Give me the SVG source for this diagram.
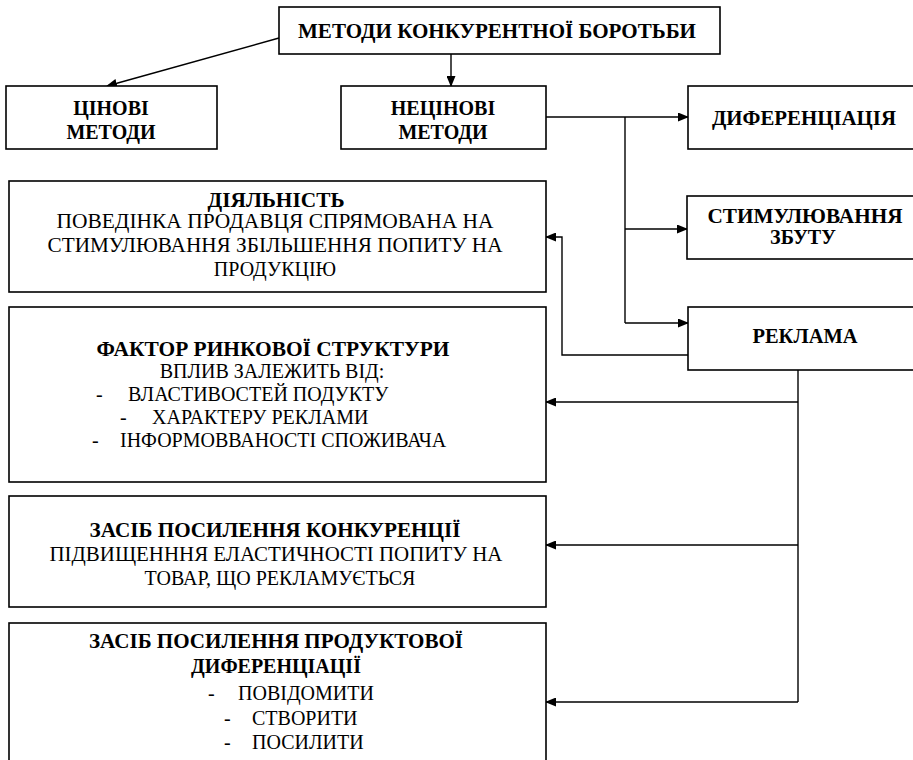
<svg xmlns="http://www.w3.org/2000/svg" width="913" height="760" viewBox="0 0 913 760">
<style>
.box{fill:#fff;stroke:#000;stroke-width:1.6}
.b{font-family:'Liberation Serif',serif;font-weight:bold;font-size:20px;fill:#000}
.r{font-family:'Liberation Serif',serif;font-size:20px;fill:#000}
.c{stroke:#000;stroke-width:1.4;fill:none}
</style>
<defs>
<marker id="ah" markerWidth="11" markerHeight="9" refX="10" refY="4.5" orient="auto" markerUnits="userSpaceOnUse">
<path d="M0,0 L11,4.5 L0,9 Z" fill="#000"/>
</marker>
</defs>
<rect width="913" height="760" fill="#fff"/>
<g id="connectors">
<line class="c" x1="279" y1="38" x2="107" y2="86" marker-end="url(#ah)"/>
<line class="c" x1="451" y1="54" x2="451" y2="86" marker-end="url(#ah)"/>
<line class="c" x1="546" y1="117" x2="688" y2="117" marker-end="url(#ah)"/>
<line class="c" x1="625" y1="117" x2="625" y2="323"/>
<line class="c" x1="625" y1="229" x2="687" y2="229" marker-end="url(#ah)"/>
<line class="c" x1="625" y1="323" x2="688" y2="323" marker-end="url(#ah)"/>
<polyline class="c" points="688,355 562,355 562,237 546,237" marker-end="url(#ah)"/>
<line class="c" x1="798" y1="370" x2="798" y2="702"/>
<line class="c" x1="798" y1="402" x2="546" y2="402" marker-end="url(#ah)"/>
<line class="c" x1="798" y1="545" x2="546" y2="545" marker-end="url(#ah)"/>
<line class="c" x1="798" y1="702" x2="546" y2="702" marker-end="url(#ah)"/>
</g>
<g id="n-top">
<rect class="box" x="279" y="7" width="441" height="47"/>
<text class="b" x="497" y="38" text-anchor="middle" textLength="398" lengthAdjust="spacingAndGlyphs">МЕТОДИ КОНКУРЕНТНОЇ БОРОТЬБИ</text>
</g>
<g id="n-price">
<rect class="box" x="6" y="86" width="211" height="63"/>
<text class="b" x="111" y="115" text-anchor="middle">ЦІНОВІ</text>
<text class="b" x="111" y="139" text-anchor="middle">МЕТОДИ</text>
</g>
<g id="n-nonprice">
<rect class="box" x="341" y="86" width="205" height="63"/>
<text class="b" x="443" y="115" text-anchor="middle">НЕЦІНОВІ</text>
<text class="b" x="443" y="139" text-anchor="middle">МЕТОДИ</text>
</g>
<g id="n-diff">
<rect class="box" x="688" y="86" width="240" height="63"/>
<text class="b" x="804" y="125" text-anchor="middle" textLength="184" lengthAdjust="spacingAndGlyphs">ДИФЕРЕНЦІАЦІЯ</text>
</g>
<g id="n-stim">
<rect class="box" x="687" y="196" width="240" height="63"/>
<text class="b" x="805" y="223" text-anchor="middle" textLength="195" lengthAdjust="spacingAndGlyphs">СТИМУЛЮВАННЯ</text>
<text class="b" x="803" y="244" text-anchor="middle">ЗБУТУ</text>
</g>
<g id="n-adv">
<rect class="box" x="688" y="307" width="240" height="63"/>
<text class="b" x="805" y="343" text-anchor="middle" textLength="105" lengthAdjust="spacingAndGlyphs">РЕКЛАМА</text>
</g>
<g id="n-activity">
<rect class="box" x="9" y="181" width="537" height="111"/>
<text class="b" x="276" y="207" text-anchor="middle" textLength="137" lengthAdjust="spacingAndGlyphs">ДІЯЛЬНІСТЬ</text>
<text class="r" x="275" y="228" text-anchor="middle" textLength="437" lengthAdjust="spacingAndGlyphs">ПОВЕДІНКА ПРОДАВЦЯ СПРЯМОВАНА НА</text>
<text class="r" x="275" y="252" text-anchor="middle" textLength="455" lengthAdjust="spacingAndGlyphs">СТИМУЛЮВАННЯ ЗБІЛЬШЕННЯ ПОПИТУ НА</text>
<text class="r" x="275" y="276" text-anchor="middle">ПРОДУКЦІЮ</text>
</g>
<g id="n-factor">
<rect class="box" x="9" y="307" width="537" height="175"/>
<text class="b" x="273" y="356" text-anchor="middle" textLength="353" lengthAdjust="spacingAndGlyphs">ФАКТОР РИНКОВОЇ СТРУКТУРИ</text>
<text class="r" x="272" y="378" text-anchor="middle">ВПЛИВ ЗАЛЕЖИТЬ ВІД:</text>
<text class="r" x="96" y="401">-</text>
<text class="r" x="128" y="401">ВЛАСТИВОСТЕЙ ПОДУКТУ</text>
<text class="r" x="120" y="424">-</text>
<text class="r" x="152" y="424">ХАРАКТЕРУ РЕКЛАМИ</text>
<text class="r" x="92" y="447">-</text>
<text class="r" x="120" y="447">ІНФОРМОВВАНОСТІ СПОЖИВАЧА</text>
</g>
<g id="n-competition">
<rect class="box" x="9" y="496" width="537" height="111"/>
<text class="b" x="275" y="537" text-anchor="middle" textLength="371" lengthAdjust="spacingAndGlyphs">ЗАСІБ ПОСИЛЕННЯ КОНКУРЕНЦІЇ</text>
<text class="r" x="276" y="561" text-anchor="middle" textLength="453" lengthAdjust="spacingAndGlyphs">ПІДВИЩЕНННЯ ЕЛАСТИЧНОСТІ ПОПИТУ НА</text>
<text class="r" x="280" y="585" text-anchor="middle">ТОВАР, ЩО РЕКЛАМУЄТЬСЯ</text>
</g>
<g id="n-product">
<rect class="box" x="9" y="623" width="537" height="150"/>
<text class="b" x="276" y="648" text-anchor="middle" textLength="374" lengthAdjust="spacingAndGlyphs">ЗАСІБ ПОСИЛЕННЯ ПРОДУКТОВОЇ</text>
<text class="b" x="276" y="673" text-anchor="middle">ДИФЕРЕНЦІАЦІЇ</text>
<text class="r" x="208" y="700">-</text>
<text class="r" x="238" y="700">ПОВІДОМИТИ</text>
<text class="r" x="224" y="725">-</text>
<text class="r" x="252" y="725">СТВОРИТИ</text>
<text class="r" x="224" y="749">-</text>
<text class="r" x="252" y="749">ПОСИЛИТИ</text>
</g>
</svg>
